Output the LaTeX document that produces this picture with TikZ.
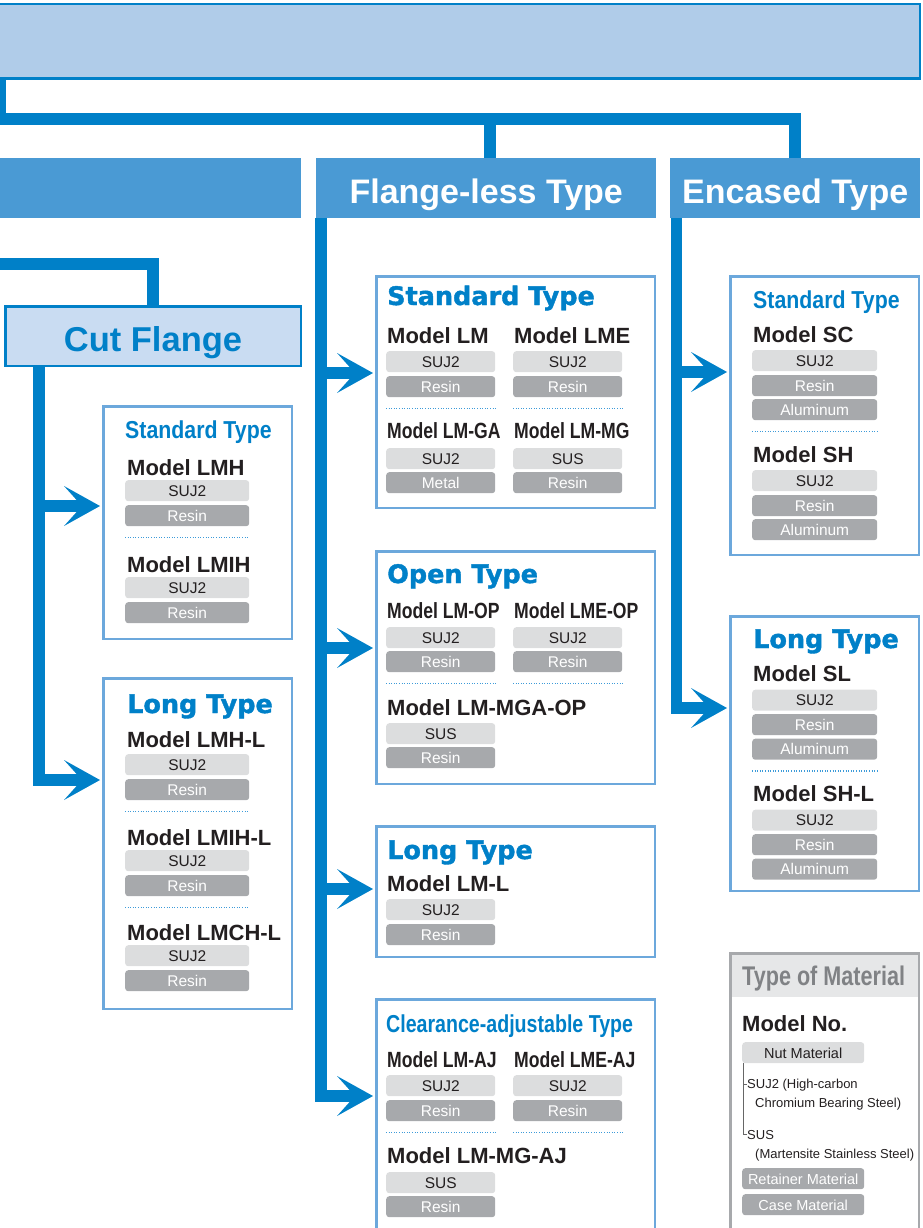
\documentclass[tikz,border=0pt]{standalone}
\usepackage{fontspec}
\setmainfont{Liberation Sans}
\newfontfamily\condfont[FakeStretch=0.8]{Liberation Sans Bold}
\newfontfamily\semicond[FakeStretch=0.87]{Liberation Sans Bold}
\newfontfamily\widefont[FakeBold=1.5]{DejaVu Sans Bold}
\usetikzlibrary{arrows.meta}

\definecolor{tblue}{HTML}{0080C8}
\definecolor{hdrblue}{HTML}{4A9AD4}
\definecolor{topfill}{HTML}{B0CCE9}
\definecolor{cffill}{HTML}{C9DCF2}
\definecolor{pnlblue}{HTML}{6CA8DC}
\definecolor{nutgray}{HTML}{DCDDDE}
\definecolor{retgray}{HTML}{A7A9AC}
\definecolor{sepblue}{HTML}{3D9BD9}
\definecolor{leggray}{HTML}{A7A9AC}
\definecolor{legband}{HTML}{E6E7E8}
\definecolor{legtext}{HTML}{808285}
\definecolor{txtdark}{HTML}{231F20}

\begin{document}
\begin{tikzpicture}[x=1pt, y=-1pt,
  topbox/.style = {draw=tblue, line width=2.5pt, fill=topfill, anchor=north west,
                   inner sep=0pt, minimum width=923.5pt, minimum height=74.5pt},
  hdr/.style    = {fill=hdrblue, text=white, anchor=north west, inner sep=0pt,
                   minimum height=60pt, text height=31pt, text depth=0pt,
                   font=\fontsize{34}{34}\selectfont\bfseries},
  cfbox/.style  = {draw=tblue, line width=2.5pt, fill=cffill, text=tblue,
                   anchor=north west, inner sep=0pt, minimum width=295.5pt,
                   minimum height=59.5pt, text height=31pt, text depth=0pt,
                   font=\fontsize{34.5}{34.5}\selectfont\bfseries},
  pnl/.style    = {draw=pnlblue, line width=2.5pt, anchor=north west, inner sep=0pt},
  trunk/.style  = {tblue, line width=11.5pt},
  arr/.style    = {trunk, shorten >=2pt,
                   -{Stealth[length=36pt, width=40pt, inset=18pt, line width=0pt]}},
  ttlw/.style   = {anchor=base west, inner sep=0pt, text=tblue,
                   font=\fontsize{25.5}{25.5}\widefont},
  ttlc/.style   = {anchor=base west, inner sep=0pt, text=tblue,
                   font=\fontsize{24.5}{24.5}\semicond},
  ttlcc/.style  = {anchor=base west, inner sep=0pt, text=tblue,
                   font=\fontsize{24.5}{24.5}\condfont},
  mdl/.style    = {anchor=base west, inner sep=0pt, text=txtdark,
                   font=\fontsize{22}{22}\selectfont\bfseries},
  mdlc/.style   = {anchor=base west, inner sep=0pt, text=txtdark,
                   font=\fontsize{22}{22}\condfont},
  pill/.style   = {anchor=north west, rounded corners=3pt, inner sep=0pt,
                   minimum height=21pt, text height=11pt, text depth=0pt,
                   font=\fontsize{15.5}{15.5}\selectfont},
  nut/.style    = {pill, fill=nutgray, text=txtdark},
  ret/.style    = {pill, fill=retgray, text=white},
  wc/.style     = {minimum width=124pt},
  wf/.style     = {minimum width=109pt},
  we/.style     = {minimum width=125pt},
  wl/.style     = {minimum width=122pt, font=\fontsize{14.5}{14.5}\selectfont},
  dotsep/.style = {sepblue, line width=1.6pt, dash pattern=on 1pt off 1.6pt},
  legtxt/.style = {anchor=base west, inner sep=0pt, text=txtdark,
                   font=\fontsize{13}{13}\selectfont},
  legtree/.style= {draw=black!60, line width=1pt},
]
\useasboundingbox (0,0) rectangle (922,1228);

% top level and the three type headers
\node[topbox] (top) at (-5,3) {};
\node[hdr, minimum width=301pt] (flgh) at (0,158) {};
\node[hdr, minimum width=340pt] (flh)  at (316,158) {Flange-less Type};
\node[hdr, minimum width=250pt] (ench) at (670,158) {Encased Type};

\coordinate (bus)  at (0,119);
\coordinate (flin) at ([xshift=4pt]flh.north);
\draw[trunk] (top.south -| 0.5,0) |- (ench.north |- bus) -- (ench.north);
\draw[trunk] (flin |- bus) -- (flin);

% cut flange branch
\node[cfbox] (cutf) at (4,305) {Cut Flange};
\coordinate (cfin) at (-8,264);
\draw[trunk] (cfin) -| (cutf.north);

% panels
\node[pnl, minimum width=188.5pt, minimum height=232.5pt] (cfstd)  at (102,405) {};
\node[pnl, minimum width=188.5pt, minimum height=330.5pt] (cflong) at (102,677) {};
\node[pnl, minimum width=278.5pt, minimum height=231.5pt] (flstd)  at (375,275) {};
\node[pnl, minimum width=278.5pt, minimum height=232.5pt] (flopen) at (375,550) {};
\node[pnl, minimum width=278.5pt, minimum height=130.5pt] (fllong) at (375,825) {};
\node[pnl, minimum width=278.5pt, minimum height=260pt]   (flclr)  at (375,998) {};
\node[pnl, minimum width=188.5pt, minimum height=278.5pt] (ecstd)  at (729,275) {};
\node[pnl, minimum width=188.5pt, minimum height=274.5pt] (eclong) at (729,615) {};

% trunks with arrows into the panels
\coordinate (cft) at ([xshift=35pt]cutf.south west);
\coordinate (flt) at ([xshift=5pt]flh.south west);
\coordinate (ect) at ([xshift=6.5pt]ench.south west);

\coordinate (t1) at (cfstd.west |- 0,506);
\coordinate (t2) at (cflong.west |- 0,780);
\draw[arr] (cft |- t1) -- (t1);
\draw[arr] (cft) |- (t2);

\coordinate (t3) at (flstd.west |- 0,373);
\coordinate (t4) at (flopen.west |- 0,648);
\coordinate (t5) at (fllong.west |- 0,889);
\coordinate (t6) at (flclr.west |- 0,1096);
\draw[arr] (flt |- t3) -- (t3);
\draw[arr] (flt |- t4) -- (t4);
\draw[arr] (flt |- t5) -- (t5);
\draw[arr] (flt) |- (t6);

\coordinate (t7) at (ecstd.west |- 0,372);
\coordinate (t8) at (eclong.west |- 0,708);
\draw[arr] (ect |- t7) -- (t7);
\draw[arr] (ect) |- (t8);

% cut flange / standard
\node[ttlc] (cfstdt) at (125,438) {Standard Type};
\node[mdl] (lmh) at (127,475) {Model LMH};
\node[nut, wc] (lmh1) at (125,480) {SUJ2};
\node[ret, wc] (lmh2) at (125,505) {Resin};
\draw[dotsep] ([yshift=-11pt]lmh2.south west) -- ([yshift=-11pt]lmh2.south east);
\node[mdl] (lmih) at (127,572) {Model LMIH};
\node[nut, wc] (lmih1) at (125,577) {SUJ2};
\node[ret, wc] (lmih2) at (125,602) {Resin};

% cut flange / long
\node[ttlw] (cflongt) at (127,713) {Long Type};
\node[mdl] (lmhl) at (127,747) {Model LMH-L};
\node[nut, wc] (lmhl1) at (125,754) {SUJ2};
\node[ret, wc] (lmhl2) at (125,779) {Resin};
\draw[dotsep] ([yshift=-11pt]lmhl2.south west) -- ([yshift=-11pt]lmhl2.south east);
\node[mdl] (lmihl) at (127,845) {Model LMIH-L};
\node[nut, wc] (lmihl1) at (125,850) {SUJ2};
\node[ret, wc] (lmihl2) at (125,875) {Resin};
\draw[dotsep] ([yshift=-11pt]lmihl2.south west) -- ([yshift=-11pt]lmihl2.south east);
\node[mdl] (lmchl) at (127,940) {Model LMCH-L};
\node[nut, wc] (lmchl1) at (125,945) {SUJ2};
\node[ret, wc] (lmchl2) at (125,970) {Resin};

% flange-less / standard
\node[ttlw] (flstdt) at (387,305) {Standard Type};
\node[mdl] (lm)  at (387,343) {Model LM};
\node[mdl] (lme) at (514,343) {Model LME};
\node[nut, wf] (lm1)  at (386,351) {SUJ2};
\node[ret, wf] (lm2)  at (386,376) {Resin};
\node[nut, wf] (lme1) at (513,351) {SUJ2};
\node[ret, wf] (lme2) at (513,376) {Resin};
\draw[dotsep] ([yshift=-11pt]lm2.south west) -- ([yshift=-11pt]lm2.south east);
\draw[dotsep] ([yshift=-11pt]lme2.south west) -- ([yshift=-11pt]lme2.south east);
\node[mdlc] (lmga) at (387,438) {Model LM-GA};
\node[mdlc] (lmmg) at (514,438) {Model LM-MG};
\node[nut, wf] (lmga1) at (386,448) {SUJ2};
\node[ret, wf] (lmga2) at (386,472) {Metal};
\node[nut, wf] (lmmg1) at (513,448) {SUS};
\node[ret, wf] (lmmg2) at (513,472) {Resin};

% flange-less / open
\node[ttlw] (flopent) at (387,583) {Open Type};
\node[mdlc] (lmop)  at (387,618) {Model LM-OP};
\node[mdlc] (lmeop) at (514,618) {Model LME-OP};
\node[nut, wf] (lmop1)  at (386,627) {SUJ2};
\node[ret, wf] (lmop2)  at (386,651) {Resin};
\node[nut, wf] (lmeop1) at (513,627) {SUJ2};
\node[ret, wf] (lmeop2) at (513,651) {Resin};
\draw[dotsep] ([yshift=-11pt]lmop2.south west) -- ([yshift=-11pt]lmop2.south east);
\draw[dotsep] ([yshift=-11pt]lmeop2.south west) -- ([yshift=-11pt]lmeop2.south east);
\node[mdl] (lmmgaop) at (387,715) {Model LM-MGA-OP};
\node[nut, wf] (lmmgaop1) at (386,723) {SUS};
\node[ret, wf] (lmmgaop2) at (386,747) {Resin};

% flange-less / long
\node[ttlw] (fllongt) at (387,859) {Long Type};
\node[mdl] (lml) at (387,891) {Model LM-L};
\node[nut, wf] (lml1) at (386,899) {SUJ2};
\node[ret, wf] (lml2) at (386,924) {Resin};

% flange-less / clearance-adjustable
\node[ttlcc] (flclrt) at (386,1032) {Clearance-adjustable Type};
\node[mdlc] (lmaj)  at (387,1067) {Model LM-AJ};
\node[mdlc] (lmeaj) at (514,1067) {Model LME-AJ};
\node[nut, wf] (lmaj1)  at (386,1075) {SUJ2};
\node[ret, wf] (lmaj2)  at (386,1100) {Resin};
\node[nut, wf] (lmeaj1) at (513,1075) {SUJ2};
\node[ret, wf] (lmeaj2) at (513,1100) {Resin};
\draw[dotsep] ([yshift=-11pt]lmaj2.south west) -- ([yshift=-11pt]lmaj2.south east);
\draw[dotsep] ([yshift=-11pt]lmeaj2.south west) -- ([yshift=-11pt]lmeaj2.south east);
\node[mdl] (lmmgaj) at (387,1163) {Model LM-MG-AJ};
\node[nut, wf] (lmmgaj1) at (386,1172) {SUS};
\node[ret, wf] (lmmgaj2) at (386,1196) {Resin};

% encased / standard
\node[ttlc] (ecstdt) at (753,308) {Standard Type};
\node[mdl] (sc) at (753,342) {Model SC};
\node[nut, we] (sc1) at (752,350) {SUJ2};
\node[ret, we] (sc2) at (752,375) {Resin};
\node[ret, we] (sc3) at (752,399) {Aluminum};
\draw[dotsep] ([yshift=-11pt]sc3.south west) -- ([yshift=-11pt]sc3.south east);
\node[mdl] (sh) at (753,462) {Model SH};
\node[nut, we] (sh1) at (752,470) {SUJ2};
\node[ret, we] (sh2) at (752,495) {Resin};
\node[ret, we] (sh3) at (752,519) {Aluminum};

% encased / long
\node[ttlw] (eclongt) at (753,648) {Long Type};
\node[mdl] (sl) at (753,681) {Model SL};
\node[nut, we] (sl1) at (752,689.5) {SUJ2};
\node[ret, we] (sl2) at (752,714) {Resin};
\node[ret, we] (sl3) at (752,738.5) {Aluminum};
\draw[dotsep] ([yshift=-11pt]sl3.south west) -- ([yshift=-11pt]sl3.south east);
\node[mdl] (shl) at (753,801) {Model SH-L};
\node[nut, we] (shl1) at (752,809.5) {SUJ2};
\node[ret, we] (shl2) at (752,834) {Resin};
\node[ret, we] (shl3) at (752,858.5) {Aluminum};

% legend
\node[fill=legband, anchor=north west, inner sep=0pt, minimum width=191pt,
      minimum height=45pt] (legbd) at (729,952) {};
\node[draw=leggray, line width=2.5pt, anchor=north west, inner sep=0pt,
      minimum width=188.5pt, minimum height=300pt] (leg) at (729,952) {};
\node[anchor=base west, inner sep=0pt, text=legtext,
      font=\fontsize{27}{27}\condfont] (legt) at (742,985) {Type of Material};
\node[mdl] (legm) at (742,1031) {Model No.};
\node[nut, wl] (nutm) at (742,1042) {Nut Material};
\node[legtxt] (lsuj)  at (747,1088) {SUJ2 (High-carbon};
\node[legtxt] (lsujb) at (755,1107) {Chromium Bearing Steel)};
\node[legtxt] (lsus)  at (747,1139) {SUS};
\node[legtxt] (lsusb) at (755,1158) {(Martensite Stainless Steel)};
\node[ret, wl] (retm) at (742,1168) {Retainer Material};
\node[ret, wl] (casm) at (742,1194) {Case Material};
\draw[legtree] ([xshift=1.5pt]nutm.south west) |- (lsuj.west);
\draw[legtree] ([xshift=1.5pt]nutm.south west) |- (lsus.west);

\end{tikzpicture}
\end{document}
